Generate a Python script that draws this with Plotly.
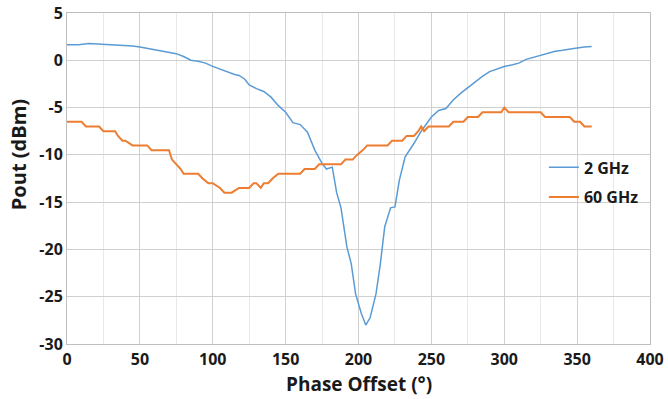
import plotly.graph_objects as go

# 2 GHz series
x_2g = [0, 8, 15, 25, 35, 45, 50, 60, 70, 75, 80, 85, 90, 95, 100, 105, 110, 115, 118, 122, 125,
        130, 135, 140, 145, 150, 155, 160, 165, 170, 175, 178, 182, 185, 188, 192, 195, 198,
        202, 205, 208, 212, 215, 218, 222, 225, 228, 232, 238, 243, 250, 255, 260, 265, 270,
        275, 280, 285, 290, 295, 300, 305, 310, 315, 320, 325, 330, 335, 340, 345, 350, 355, 360]
y_2g = [1.65, 1.65, 1.78, 1.7, 1.65, 1.5, 1.4, 1.15, 0.85, 0.7, 0.4, 0.0, -0.1, -0.3, -0.65,
        -0.95, -1.25, -1.5, -1.6, -2.0, -2.6, -3.0, -3.3, -3.9, -4.8, -5.5, -6.6, -6.8, -7.6,
        -9.5, -10.9, -11.5, -11.3, -14.0, -15.6, -19.7, -21.5, -24.7, -26.8, -28.0, -27.2,
        -24.7, -21.5, -17.6, -15.6, -15.5, -12.7, -10.2, -8.8, -7.5, -6.0, -5.3, -5.1, -4.2,
        -3.5, -2.9, -2.3, -1.7, -1.2, -0.9, -0.65, -0.5, -0.3, 0.1, 0.3, 0.55, 0.75, 0.95,
        1.05, 1.2, 1.3, 1.4, 1.45]

# 60 GHz series (stepped)
x_60g = [0, 10, 13, 22, 25, 33, 35, 38, 40, 45, 47, 55, 58, 70, 72, 75, 78, 80, 90, 93, 97,
         100, 105, 108, 113, 118, 120, 125, 128, 130, 133, 135, 138, 141, 145, 148, 150, 160,
         163, 170, 173, 188, 191, 196, 199, 203, 206, 210, 220, 223, 230, 233, 238, 241, 243,
         245, 248, 250, 262, 265, 272, 275, 282, 285, 298, 300, 303, 325, 328, 345, 348, 352,
         355, 360]
y_60g = [-6.5, -6.5, -7.0, -7.0, -7.5, -7.5, -8.0, -8.5, -8.5, -9.0, -9.0, -9.0, -9.5, -9.5,
         -10.5, -11.0, -11.5, -12.0, -12.0, -12.5, -13.0, -13.0, -13.5, -14.0, -14.0, -13.5,
         -13.5, -13.5, -13.0, -13.0, -13.5, -13.0, -13.0, -12.5, -12.0, -12.0, -12.0, -12.0,
         -11.5, -11.5, -11.0, -11.0, -10.5, -10.5, -10.0, -9.5, -9.0, -9.0, -9.0, -8.5, -8.5,
         -8.0, -8.0, -7.5, -7.0, -7.5, -7.0, -7.0, -7.0, -6.5, -6.5, -6.0, -6.0, -5.5, -5.5,
         -5.0, -5.5, -5.5, -6.0, -6.0, -6.5, -6.5, -7.0, -7.0]

x_ticks = [0, 50, 100, 150, 200, 250, 300, 350, 400]
y_ticks = [5, 0, -5, -10, -15, -20, -25, -30]
x_ticktext = [str(v) for v in x_ticks]
y_ticktext = [str(v) for v in y_ticks]

font_family = "Open Sans"
txt_color = "#1a1a1a"

fig = go.Figure()
fig.add_trace(go.Scatter(x=x_2g, y=y_2g, mode="lines", name="2 GHz", legendgroup="a",
                         line=dict(color="#5B9BD5", width=1.5)))
fig.add_trace(go.Scatter(x=x_60g, y=y_60g, mode="lines", name="60 GHz", legendgroup="b",
                         line=dict(color="#ED7D31", width=2)))

fig.update_layout(
    width=668, height=399,
    margin=dict(l=67, r=18, t=13, b=55),
    paper_bgcolor="white", plot_bgcolor="white",
    font=dict(family=font_family, color=txt_color),
    showlegend=True,
    legend=dict(x=0.818, y=0.585, xanchor="left", yanchor="top",
                bgcolor="rgba(0,0,0,0)", traceorder="grouped",
                font=dict(size=16, family=font_family, weight="bold", color=txt_color),
                tracegroupgap=6, itemwidth=30),
    xaxis=dict(range=[0, 400], tickvals=x_ticks, ticktext=x_ticktext, ticks="",
               automargin=False, ticklabelstandoff=1,
               showgrid=True, gridcolor="#D0D0D0", gridwidth=1,
               minor=dict(dtick=25, tick0=0, showgrid=True, gridcolor="#E8E8E8", gridwidth=1),
               showline=True, linecolor="#BFBFBF", linewidth=1, mirror=True,
               tickfont=dict(size=16, family=font_family, weight="bold", color=txt_color),
               zeroline=False),
    yaxis=dict(range=[-30, 5], tickvals=y_ticks, ticktext=y_ticktext, ticks="",
               automargin=False,
               showgrid=True, gridcolor="#D0D0D0", gridwidth=1,
               showline=True, linecolor="#BFBFBF", linewidth=1, mirror=True,
               tickfont=dict(size=16, family=font_family, weight="bold", color=txt_color),
               zeroline=False),
    annotations=[
        dict(text="<b>Phase Offset (°)</b>", xref="paper", yref="paper", x=0.5, y=-0.1625,
             xanchor="center", yanchor="bottom", showarrow=False, borderpad=0,
             font=dict(size=19, family=font_family, color=txt_color)),
        dict(text="<b>Pout (dBm)</b>", xref="paper", yref="paper", x=-0.082, y=0.571,
             xanchor="center", yanchor="middle", showarrow=False, textangle=-90,
             font=dict(size=20, family=font_family, color=txt_color)),
    ],
)

fig.write_html("out.html")
